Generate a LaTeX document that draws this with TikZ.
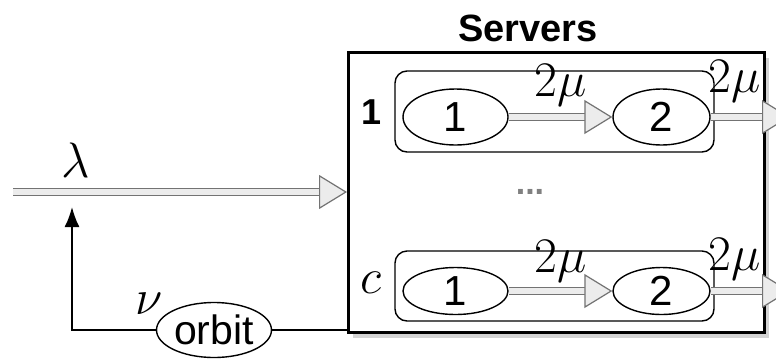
\documentclass[tikz,border=0pt]{standalone}
\usepackage{fontspec}
\setsansfont{Liberation Sans}
\usetikzlibrary{positioning,shapes.geometric,arrows.meta,shadows}

\begin{document}
\begin{tikzpicture}[
            x=0.5pt, y=-0.5pt,
            every node/.style={font=\sffamily},
            srvbox/.style={draw, line width=1.5pt, fill=white, minimum width=208pt, minimum height=140pt,
                drop shadow={shadow xshift=2pt, shadow yshift=-3pt, opacity=0.35}},
            rowbox/.style={draw, rounded corners=6pt, line width=0.7pt, minimum width=159.5pt},
            st/.style={ellipse, draw, line width=0.7pt, inner sep=0pt, font=\fontsize{21}{24}\sffamily},
            flow/.style={draw=black!55, line width=0.6pt, double=gray!15, double distance=2.6pt,
                -{Triangle[length=14pt, width=17pt, fill=gray!15]}},
            rate/.style={font=\fontsize{23}{26}\selectfont},
        ]
            \useasboundingbox (0,0) rectangle (776,360);
            \clip (0,0) rectangle (776,360);

            % server pool
            \node[srvbox] (srv) at (556.5,192) {};
            \node[font=\fontsize{19}{22}\sffamily\bfseries] (title) at (528,28) {Servers};

            % server 1
            \node[rowbox, minimum height=40.5pt] (r1) at (554.5,111.5) {};
            \node[st, minimum width=52.5pt, minimum height=28pt] (r1a) at (455.5,117) {1};
            \node[st, minimum width=48.5pt, minimum height=28pt] (r1b) at (661.5,117) {2};
            \node[font=\fontsize{18}{20}\sffamily\bfseries] (n1) at (372,112) {1};

            % server c
            \node[rowbox, minimum height=35pt] (rc) at (554.5,286) {};
            \node[st, minimum width=52.5pt, minimum height=23.5pt] (rca) at (455.5,291) {1};
            \node[st, minimum width=48.5pt, minimum height=23.5pt] (rcb) at (661.5,291) {2};
            \node[font=\fontsize{30}{32}\selectfont] (nc) at (371,283) {$c$};

            \node[text=gray, font=\fontsize{17}{19}\sffamily\bfseries] (dots) at (530,192) {...};

            % phase transitions
            \coordinate (o1) at (790,117);
            \coordinate (oc) at (790,291);
            \draw[flow] (r1a) -- (r1b) node[rate, midway, above=2pt] {$2\mu$};
            \draw[flow] (r1b) -- (o1) node[rate, pos=0.3, above=4pt] {$2\mu$};
            \draw[flow] (rca) -- (rcb) node[rate, midway, above=1pt] {$2\mu$};
            \draw[flow] (rcb) -- (oc) node[rate, pos=0.3, above=2pt] {$2\mu$};

            % arrivals
            \coordinate (src) at (13,192);
            \draw[flow] (src) -- (src -| srv.west);
            \node[font=\fontsize{25}{27}\selectfont] (lam) at (76,160) {$\lambda$};

            % retrials
            \node[st, font=\fontsize{20.5}{23}\sffamily, minimum width=57.5pt, minimum height=27.5pt] (orbit) at (214,330) {orbit};
            \node[font=\fontsize{24}{26}\selectfont] (nu) at (149,304) {$\nu$};
            \coordinate (fb) at (72,207);
            \draw[line width=0.9pt] (orbit.east) -- (orbit.east -| srv.west);
            \draw[line width=0.9pt, -{Latex[length=10pt, width=7.5pt]}] (orbit.west) -| (fb);
        \end{tikzpicture}
\end{document}
